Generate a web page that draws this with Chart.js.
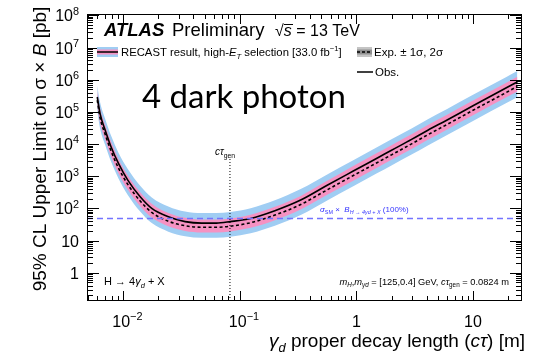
<!DOCTYPE html>
<html>
<head>
<meta charset="utf-8">
<script src="https://cdn.jsdelivr.net/npm/chart.js@4.4.0/dist/chart.umd.min.js"></script>
<style>
  html, body { margin: 0; padding: 0; background: #fff; }
  #wrap { width: 533px; height: 361px; }
</style>
</head>
<body>
<div id="wrap"><canvas id="limit"></canvas></div>
<script>
// gamma_d proper decay length [m]
var ctau = [0.006, 0.00635, 0.00702, 0.00789, 0.00912, 0.01096, 0.014, 0.0176, 0.0244, 0.034, 0.0472, 0.063, 0.083, 0.124, 0.2, 0.333, 0.562, 0.94, 1.5, 2.0, 3.0, 4.1, 6.0, 10, 19.5, 24]
// 95% CL upper limit on sigma x B [pb]
var observed = [2.9e5, 8.7e4, 2.7e4, 8.1e3, 2.5e3, 760, 230, 100, 55, 39, 35, 35, 39, 49, 85, 182, 525, 1450, 3630, 6400, 1.42e4, 2.7e4, 5.6e4, 1.55e5, 5.7e5, 8.5e5]
var expected = [2.3e5, 6.5e4, 2.0e4, 6.0e3, 1.8e3, 560, 170, 75, 40, 29, 26, 26, 28, 36, 62, 132, 378, 1050, 2630, 4630, 1.03e4, 1.95e4, 4.07e4, 1.12e5, 4.1e5, 6.2e5]
var plus1s = [4.4e5, 1.25e5, 3.8e4, 1.15e4, 3.4e3, 1060, 320, 140, 72, 51, 45, 45, 49, 64, 112, 245, 720, 2090, 5250, 9250, 2.06e4, 3.9e4, 8.1e4, 2.24e5, 8.2e5, 1.23e6]
var minus1s = [1.6e5, 4.5e4, 1.4e4, 4.1e3, 1.24e3, 385, 117, 52, 28, 20, 18, 18, 19.3, 25, 43, 92, 265, 730, 1840, 3240, 7200, 1.36e4, 2.85e4, 7.85e4, 2.88e5, 4.3e5]
var plus2s = [6.5e5, 1.95e5, 6.0e4, 1.8e4, 5.4e3, 1680, 510, 220, 115, 80, 72, 72, 78, 102, 180, 400, 1140, 3160, 7940, 1.4e4, 3.11e4, 5.9e4, 1.23e5, 3.39e5, 1.24e6, 1.86e6]
var minus2s = [1.08e5, 3.0e4, 9.4e3, 2.8e3, 850, 263, 80, 35, 19, 13.6, 12.2, 12.2, 13.2, 17, 29, 62, 177, 490, 1230, 2170, 4820, 9100, 1.9e4, 5.25e4, 1.92e5, 2.9e5]
var smLimit = 49
var ctauGen = 0.0824
var ctauGenTop = 3600

var xRange = [0.0049, 26.3]
var yRange = [0.133, 1.1e8]
var xTickVals = [0.01, 0.1, 1, 10]
var xTickLabels = [['10', '\u22122'], ['10', '\u22121'], ['1', ''], ['10', '']]
var yTickVals = [1, 10, 100, 1e3, 1e4, 1e5, 1e6, 1e7, 1e8]
var yTickLabels = [['1', ''], ['10', ''], ['10', '2'], ['10', '3'], ['10', '4'], ['10', '5'], ['10', '6'], ['10', '7'], ['10', '8']]

var FAM = '"Liberation Sans", Arial, Helvetica, sans-serif'
var BLUE = '#a0cdf3'
var PINK = '#f592c2'

function pairs (xs, ys) {
  var out = []
  for (var i = 0; i < xs.length; i++) out.push({x: xs[i], y: ys[i]})
  return out
}

// parts: [text, style]; style letters: i italic, b bold, ^ superscript, _ subscript
function drawRich (ctx, parts, x, y, size, align, color) {
  var segs = []
  var total = 0
  for (var i = 0; i < parts.length; i++) {
    var st = parts[i][1] || ''
    var s = size
    var dy = 0
    if (st.indexOf('^') >= 0) { s = size * 0.68; dy = -size * 0.42 }
    if (st.indexOf('_') >= 0) { s = size * 0.68; dy = size * 0.25 }
    var font = (st.indexOf('i') >= 0 ? 'italic ' : '') + (st.indexOf('b') >= 0 ? 'bold ' : '') + s + 'px ' + FAM
    ctx.font = font
    var w = ctx.measureText(parts[i][0]).width
    segs.push({t: parts[i][0], font: font, dy: dy, w: w})
    total += w
  }
  var sx = x
  if (align === 'center') sx = x - total / 2
  if (align === 'right') sx = x - total
  ctx.fillStyle = color || '#000'
  ctx.textAlign = 'left'
  ctx.textBaseline = 'alphabetic'
  for (var j = 0; j < segs.length; j++) {
    ctx.font = segs[j].font
    ctx.fillText(segs[j].t, sx, y + segs[j].dy)
    sx += segs[j].w
  }
}

function hline (ctx, x1, x2, y, w, dash) {
  ctx.beginPath()
  ctx.lineWidth = w
  ctx.setLineDash(dash || [])
  ctx.moveTo(x1, y)
  ctx.lineTo(x2, y)
  ctx.stroke()
  ctx.setLineDash([])
}

var atlasDecor = {
  id: 'atlasDecor',
  afterDraw: function (chart) {
    var ctx = chart.ctx
    var a = chart.chartArea
    var xs = chart.scales.x
    var ys = chart.scales.y
    ctx.save()
    ctx.strokeStyle = '#000'
    ctx.lineWidth = 1
    ctx.strokeRect(a.left + 0.5, a.top + 0.5, a.right - a.left - 1, a.bottom - a.top - 1)

    // ticks inside the frame
    ctx.beginPath()
    for (var n = -3; n <= 2; n++) {
      for (var k = 1; k <= 9; k++) {
        var v = k * Math.pow(10, n)
        if (v < xRange[0] || v > xRange[1]) continue
        var px = Math.round(xs.getPixelForValue(v)) + 0.5
        var len = k === 1 ? 10 : 5
        ctx.moveTo(px, a.bottom); ctx.lineTo(px, a.bottom - len)
        ctx.moveTo(px, a.top); ctx.lineTo(px, a.top + len)
      }
    }
    for (var m = -1; m <= 8; m++) {
      for (var q = 1; q <= 9; q++) {
        var vy = q * Math.pow(10, m)
        if (vy < yRange[0] || vy > yRange[1]) continue
        var py = Math.round(ys.getPixelForValue(vy)) + 0.5
        var ln = q === 1 ? 12 : 6
        ctx.moveTo(a.left, py); ctx.lineTo(a.left + ln, py)
        ctx.moveTo(a.right, py); ctx.lineTo(a.right - ln, py)
      }
    }
    ctx.stroke()

    // tick labels
    for (var i = 0; i < yTickVals.length; i++) {
      var yy = ys.getPixelForValue(yTickVals[i])
      drawRich(ctx, [[yTickLabels[i][0], ''], [yTickLabels[i][1], '^']], a.left - 8, yy + 6, 16, 'right')
    }
    for (var j = 0; j < xTickVals.length; j++) {
      var xx = xs.getPixelForValue(xTickVals[j])
      var lab = xTickLabels[j]
      if (lab[1]) {
        ctx.font = '16px ' + FAM
        var bw = ctx.measureText(lab[0]).width
        drawRich(ctx, [[lab[0], ''], [lab[1], '^']], xx - bw / 2 - 2, 327, 16, 'left')
      } else {
        drawRich(ctx, [[lab[0], '']], xx, 327, 16, 'center')
      }
    }

    // axis titles
    drawRich(ctx, [['\u03b3', 'i'], ['d', 'i_'], [' proper decay length (', ''], ['c\u03c4', 'i'], [') [m]', '']], 269, 347, 19, 'left')
    ctx.save()
    ctx.translate(46, 149)
    ctx.rotate(-Math.PI / 2)
    drawRich(ctx, [['95% CL Upper Limit on \u03c3 \u00d7 ', ''], ['B', 'i'], [' [pb]', '']], 0, 0, 19, 'center')
    ctx.restore()

    // header
    drawRich(ctx, [['ATLAS', 'ib']], 104, 36, 18.5, 'left')
    drawRich(ctx, [['Preliminary', '']], 172, 36, 18.5, 'left')
    drawRich(ctx, [['\u221a', ''], ['s', 'i'], [' = 13 TeV', '']], 275, 36, 16, 'left')
    ctx.beginPath(); ctx.lineWidth = 1
    ctx.moveTo(284, 24.5); ctx.lineTo(293, 24.5); ctx.stroke()

    // legend
    ctx.fillStyle = BLUE; ctx.fillRect(97, 47, 21, 10)
    ctx.fillStyle = PINK; ctx.fillRect(97, 49.5, 21, 5)
    ctx.strokeStyle = '#000'; hline(ctx, 97, 118, 52, 1.5)
    drawRich(ctx, [['RECAST result, high-', ''], ['E', 'i'], ['T', 'i_'], [' selection [33.0 fb', ''], ['\u22121', '^'], [']', '']], 121, 56, 11.3, 'left')
    ctx.fillStyle = '#c4c4c4'; ctx.fillRect(357, 47, 15, 10)
    ctx.fillStyle = '#8f8f8f'; ctx.fillRect(357, 49.5, 15, 5)
    hline(ctx, 357, 372, 52, 1.5, [3, 2])
    drawRich(ctx, [['Exp. \u00b1 1\u03c3, 2\u03c3', '']], 374, 56, 11.5, 'left')
    hline(ctx, 357, 373, 72, 1.5)
    drawRich(ctx, [['Obs.', '']], 375, 76, 11.5, 'left')

    // big annotation
    ctx.fillStyle = '#000'
    ctx.font = '33px Lato, "Open Sans", sans-serif'
    ctx.textAlign = 'left'
    ctx.fillText('4 dark photon', 142, 108)

    // in-plot labels
    drawRich(ctx, [['c\u03c4', 'i'], ['gen', '_']], 215, 155, 10, 'left')
    drawRich(ctx, [['\u03c3', 'i'], ['SM', '_'], [' \u00d7  ', ''], ['B', 'i'], ['H \u2192 4\u03b3d + X', 'i_'], [' (100%)', '']], 320, 212, 8, 'left', '#3535ff')
    drawRich(ctx, [['H \u2192 4', ''], ['\u03b3', 'i'], ['d', 'i_'], [' + X', '']], 104, 285, 11, 'left')
    drawRich(ctx, [['m', 'i'], ['H', 'i_'], [',', ''], ['m', 'i'], ['\u03b3d', 'i_'], [' = [125,0.4] GeV, ', ''], ['c\u03c4', 'i'], ['gen', '_'], [' = 0.0824 m', '']], 509, 285, 9.3, 'right')
    ctx.restore()
  }
}

var line = {pointRadius: 0, cubicInterpolationMode: 'monotone'}

new Chart(document.getElementById('limit'), {
  type: 'line',
  data: {
    datasets: [
      {label: 'ctau gen', data: [{x: ctauGen, y: yRange[0]}, {x: ctauGen, y: ctauGenTop}], borderColor: '#000', borderWidth: 1, borderDash: [1, 2], pointRadius: 0, fill: false},
      Object.assign({label: 'SM', data: [{x: xRange[0], y: smLimit}, {x: xRange[1], y: smLimit}], borderColor: '#7373ff', borderWidth: 1.5, borderDash: [6, 4], fill: false}, line),
      Object.assign({label: 'Obs.', data: pairs(ctau, observed), borderColor: '#000', borderWidth: 1.6, fill: false}, line),
      Object.assign({label: 'Exp.', data: pairs(ctau, expected), borderColor: '#000', borderWidth: 1.6, borderDash: [3, 2.5], fill: false}, line),
      Object.assign({label: '+1s', data: pairs(ctau, plus1s), borderWidth: 0, borderColor: 'rgba(0,0,0,0)', backgroundColor: PINK, fill: '+1'}, line),
      Object.assign({label: '-1s', data: pairs(ctau, minus1s), borderWidth: 0, borderColor: 'rgba(0,0,0,0)', fill: false}, line),
      Object.assign({label: '+2s', data: pairs(ctau, plus2s), borderWidth: 0, borderColor: 'rgba(0,0,0,0)', backgroundColor: BLUE, fill: '+1'}, line),
      Object.assign({label: '-2s', data: pairs(ctau, minus2s), borderWidth: 0, borderColor: 'rgba(0,0,0,0)', fill: false}, line)
    ]
  },
  options: {
    responsive: true,
    maintainAspectRatio: false,
    animation: false,
    layout: {padding: {left: 0, top: 14, right: 11, bottom: 0}},
    plugins: {legend: {display: false}, tooltip: {enabled: false}},
    scales: {
      x: {
        type: 'logarithmic', min: xRange[0], max: xRange[1],
        grid: {display: false}, border: {display: false}, ticks: {display: false},
        afterFit: function (s) { s.height = 60 }
      },
      y: {
        type: 'logarithmic', min: yRange[0], max: yRange[1],
        grid: {display: false}, border: {display: false}, ticks: {display: false},
        afterFit: function (s) { s.width = 87 }
      }
    }
  },
  plugins: [atlasDecor]
})
</script>
</body>
</html>
